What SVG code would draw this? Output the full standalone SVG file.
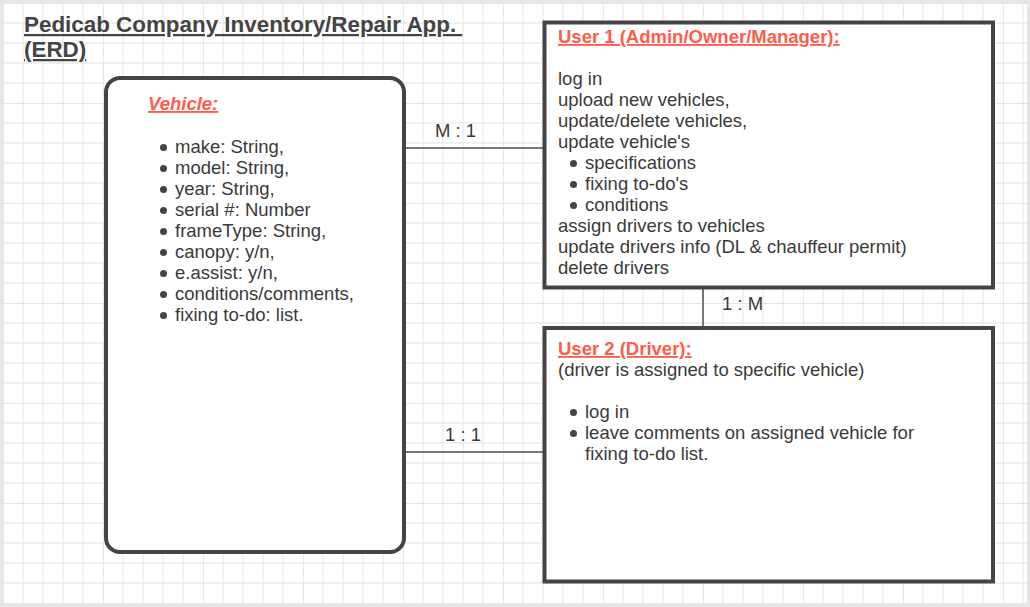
<svg xmlns="http://www.w3.org/2000/svg" width="1030" height="607" viewBox="0 0 1030 607">
<style>
text{font-family:"Liberation Sans",Arial,sans-serif;font-size:18.5px;fill:#3a3a3a}
.title{font-size:22.4px;font-weight:bold;text-decoration:underline;fill:#444}
.hdr{font-weight:bold;text-decoration:underline;fill:#ff5c4a}
.box{fill:#fff;stroke:#444;stroke-width:4}
.conn{stroke:#777;stroke-width:2;fill:none}
.bul{fill:#444}
</style>
<defs>
<pattern id="grid" patternUnits="userSpaceOnUse" x="3" y="3" width="100" height="100">
<path d="M20 0V100M40 0V100M60 0V100M80 0V100M0 20H100M0 40H100M0 60H100M0 80H100" stroke="#ebebeb" stroke-width="1.3" fill="none"/>
<path d="M0 0V100M0 0H100" stroke="#dddddd" stroke-width="1.3" fill="none"/>
</pattern>
</defs>
<rect x="0" y="0" width="1030" height="607" fill="#e6e6e6"/>
<rect x="3" y="3" width="1024" height="600" fill="#fff"/>
<rect x="3" y="3" width="1024" height="600" fill="url(#grid)"/>

<g id="title">
<text class="title" x="24" y="32" xml:space="preserve">Pedicab Company Inventory/Repair App. </text>
<text class="title" x="24" y="57">(ERD)</text>
</g>

<g id="connectors">
<line class="conn" x1="404" y1="148" x2="544" y2="148"/>
<line class="conn" x1="404" y1="452" x2="544" y2="452"/>
<line class="conn" x1="703" y1="288" x2="703" y2="327"/>
<text x="435" y="137">M : 1</text>
<text x="445" y="441">1 : 1</text>
<text x="722" y="310">1 : M</text>
</g>

<g id="vehicle">
<rect class="box" x="106" y="78" width="298" height="474" rx="14"/>
<text class="hdr" x="148" y="110" font-style="italic">Vehicle:</text>
<g class="bul">
<circle cx="163.5" cy="147.5" r="3.5"/><circle cx="163.5" cy="168.5" r="3.5"/><circle cx="163.5" cy="189.5" r="3.5"/>
<circle cx="163.5" cy="210.5" r="3.5"/><circle cx="163.5" cy="231.5" r="3.5"/><circle cx="163.5" cy="252.5" r="3.5"/>
<circle cx="163.5" cy="273.5" r="3.5"/><circle cx="163.5" cy="294.5" r="3.5"/><circle cx="163.5" cy="315.5" r="3.5"/>
</g>
<text x="175" y="153">make: String,</text>
<text x="175" y="174">model: String,</text>
<text x="175" y="195">year: String,</text>
<text x="175" y="216">serial #: Number</text>
<text x="175" y="237">frameType: String,</text>
<text x="175" y="258">canopy: y/n,</text>
<text x="175" y="279">e.assist: y/n,</text>
<text x="175" y="300">conditions/comments,</text>
<text x="175" y="321">fixing to-do: list.</text>
</g>

<g id="user1">
<rect class="box" x="544.5" y="22.5" width="448.5" height="265"/>
<text class="hdr" x="558" y="43">User 1 (Admin/Owner/Manager):</text>
<text x="558" y="85">log in</text>
<text x="558" y="106">upload new vehicles,</text>
<text x="558" y="127">update/delete vehicles,</text>
<text x="558" y="148">update vehicle's</text>
<g class="bul">
<circle cx="573.5" cy="163.5" r="3.5"/><circle cx="573.5" cy="184.5" r="3.5"/><circle cx="573.5" cy="205.5" r="3.5"/>
</g>
<text x="585" y="169">specifications</text>
<text x="585" y="190">fixing to-do's</text>
<text x="585" y="211">conditions</text>
<text x="558" y="232">assign drivers to vehicles</text>
<text x="558" y="253">update drivers info (DL &amp; chauffeur permit)</text>
<text x="558" y="274">delete drivers</text>
</g>

<g id="user2">
<rect class="box" x="544.5" y="328" width="448.5" height="253.5"/>
<text class="hdr" x="558" y="355">User 2 (Driver):</text>
<text x="558" y="376">(driver is assigned to specific vehicle)</text>
<g class="bul">
<circle cx="573.5" cy="412.5" r="3.5"/><circle cx="573.5" cy="433.5" r="3.5"/>
</g>
<text x="585" y="418">log in</text>
<text x="585" y="439">leave comments on assigned vehicle for</text>
<text x="585" y="460">fixing to-do list.</text>
</g>
</svg>
